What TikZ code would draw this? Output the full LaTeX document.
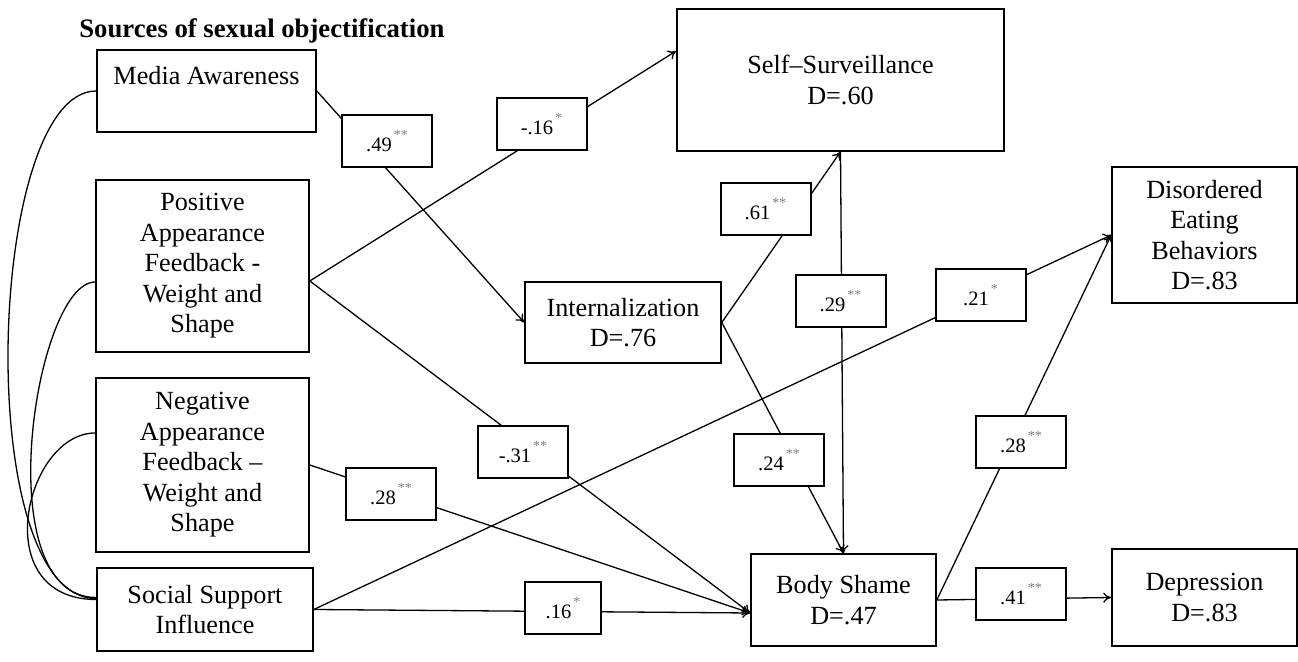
\documentclass[tikz,border=0pt]{standalone}
\usepackage{fontspec}
\setmainfont{Liberation Serif}
\usetikzlibrary{calc,arrows.meta}

\newcommand{\coef}[2]{#1\hspace{1pt}\raisebox{6pt}{\fontsize{7}{7}\selectfont\color{gray}#2}}

\begin{document}
\begin{tikzpicture}[x=0.5pt,y=-0.5pt,>={To[length=4pt,width=5pt]},
    box/.style={draw,line width=0.8pt,align=center,inner sep=0pt,font=\fontsize{13.1}{15.25}\selectfont},
    coefbox/.style={draw,fill=white,line width=1pt,inner sep=0pt,minimum width=45pt,minimum height=26pt,font=\fontsize{10.25}{12}\selectfont},
    link/.style={line width=0.65pt}]
        \useasboundingbox (0,0) rectangle (1298,662);
        %\draw (0,0) rectangle (1298,662);

        \node[anchor=base west,inner sep=0pt,font=\fontsize{13.35}{16}\selectfont\bfseries] (title) at (79,38) {Sources of sexual objectification};

        % sources
        \node[box,minimum width=109.5pt,minimum height=41pt] (ma) at (206.5,91) {Media Awareness\\~};
        \node[box,minimum width=106.5pt,minimum height=86pt] (pa) at (202.5,266) {Positive\\Appearance\\Feedback -\\Weight and\\Shape};
        \node[box,minimum width=106.5pt,minimum height=87pt] (na) at (202.5,465) {Negative\\Appearance\\Feedback --\\Weight and\\Shape};
        \node[box,minimum width=108pt,minimum height=41.5pt] (ssi) at (205,609.5) {Social Support\\Influence};

        % mediators and outcomes
        \node[box,minimum width=98pt,minimum height=40.5pt] (int) at (623,322.5) {Internalization\\D=.76};
        \node[box,minimum width=163.5pt,minimum height=71pt] (ss) at (840.5,80) {Self--Surveillance\\D=.60};
        \node[box,minimum width=92.5pt,minimum height=46pt] (bs) at (843.5,600) {Body Shame\\D=.47};
        \node[box,minimum width=92.5pt,minimum height=68pt] (deb) at (1204.5,235) {Disordered\\Eating\\Behaviors\\D=.83};
        \node[box,minimum width=92.5pt,minimum height=48.5pt] (dep) at (1204.5,597.5) {Depression\\D=.83};

        \coordinate (paout) at ($(pa.east)+(0,15)$);
        \coordinate (ssin) at ($(ss.west)+(0,-29)$);
        \coordinate (bsin) at ($(bs.west)+(0,13)$);
        \coordinate (cv1) at ($(ssi.west)+(0,-11)$);
        \coordinate (cv2) at ($(ssi.west)+(0,-12)$);
        \coordinate (cv3) at ($(ssi.west)+(0,-10)$);

        % paths
        \draw[link,->] (ma.east) -- (int.west);
        \draw[link,->] (paout) -- (ssin);
        \draw[link,->] (paout) -- (bsin);
        \draw[link,->] (na.east) -- (bsin);
        \draw[link,->] (ssi.east) -- (deb.west);
        \draw[link,->] (ssi.east) -- (bsin);
        \draw[link,->] (int.east) -- (ss.south);
        \draw[link,->] (int.east) -- (bs.north);
        \draw[link,->] (ss.south) -- (bs.north);
        \draw[link,->] (bs.east) -- (deb.west);
        \draw[link,->] (bs.east) -- (dep.west);

        % covariances
        \draw[link] (ma.west) .. controls +(-110,0) and +(-125,0) .. (cv1);
        \draw[link] ($(pa.west)+(0,16)$) .. controls +(-60,0) and +(-110,0) .. (cv2);
        \draw[link] ($(na.west)+(0,-32)$) .. controls +(-70,0) and +(-110,0) .. (cv3);

        % coefficients
        \node[coefbox] (c49) at (387,141) {\coef{.49}{**}};
        \node[coefbox] (c16n) at (541.5,124) {\coef{-.16}{*}};
        \node[coefbox] (c61) at (765.5,209) {\coef{.61}{**}};
        \node[coefbox] (c29) at (840.5,301) {\coef{.29}{**}};
        \node[coefbox] (c31) at (523,452) {\coef{-.31}{**}};
        \node[coefbox] (c24) at (779,460) {\coef{.24}{**}};
        \node[coefbox,minimum width=38pt] (c16) at (563,608) {\coef{.16}{*}};
        \node[coefbox] (c28a) at (391,494) {\coef{.28}{**}};
        \node[coefbox] (c21) at (980.5,295) {\coef{.21}{*}};
        \node[coefbox] (c28b) at (1021,442.5) {\coef{.28}{**}};
        \node[coefbox] (c41) at (1021,594) {\coef{.41}{**}};
\end{tikzpicture}
\end{document}
